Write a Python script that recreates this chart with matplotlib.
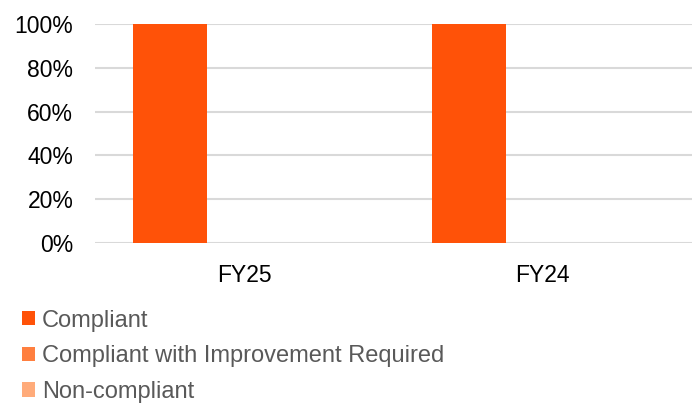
import numpy as np
import matplotlib.pyplot as plt
from matplotlib.ticker import PercentFormatter

plt.rcParams['font.family'] = ['Liberation Sans', 'DejaVu Sans']

years = ['FY25', 'FY24']
series_names = ['Compliant', 'Compliant with Improvement Required', 'Non-compliant']
compliant = [1.0, 1.0]
improvement = [0.0, 0.0]
non_compliant = [0.0, 0.0]
colors = ['#FF5208', '#FF7F3F', '#FFAB7A']

fig = plt.figure(figsize=(6.92, 4.03), dpi=100)
ax = fig.add_axes([0.137, 0.397, 0.863, 0.543])

x = np.arange(len(years))
w = 0.248
handles = []
for i, (vals, name, c) in enumerate(zip([compliant, improvement, non_compliant], series_names, colors)):
    b = ax.bar(x + (i - 1) * w, vals, width=w, color=c, label=name, zorder=3)
    handles.append(b)

ax.set_xlim(-0.5, 1.5)
ax.set_ylim(0, 1)
ax.set_yticks(np.arange(0, 1.01, 0.2))
ax.yaxis.set_major_formatter(PercentFormatter(1.0, decimals=0))
ax.set_xticks(x)
ax.set_xticklabels(years)
ax.grid(axis='y', color='#D9D9D9', linewidth=1.5, zorder=0)
for s in ax.spines.values():
    s.set_visible(False)
ax.tick_params(axis='both', length=0, labelsize=16.5, colors='#000000')
ax.tick_params(axis='y', pad=15.5)
ax.tick_params(axis='x', pad=15)

fig.legend(handles=handles, labels=series_names, loc='upper left',
           bbox_to_anchor=(0.032, 0.232), frameon=False, fontsize=17,
           handlelength=0.55, handleheight=0.55, handletextpad=0.28,
           labelspacing=0.58, borderpad=0, borderaxespad=0, labelcolor='#595959')

fig.savefig('out.png', dpi=100)
